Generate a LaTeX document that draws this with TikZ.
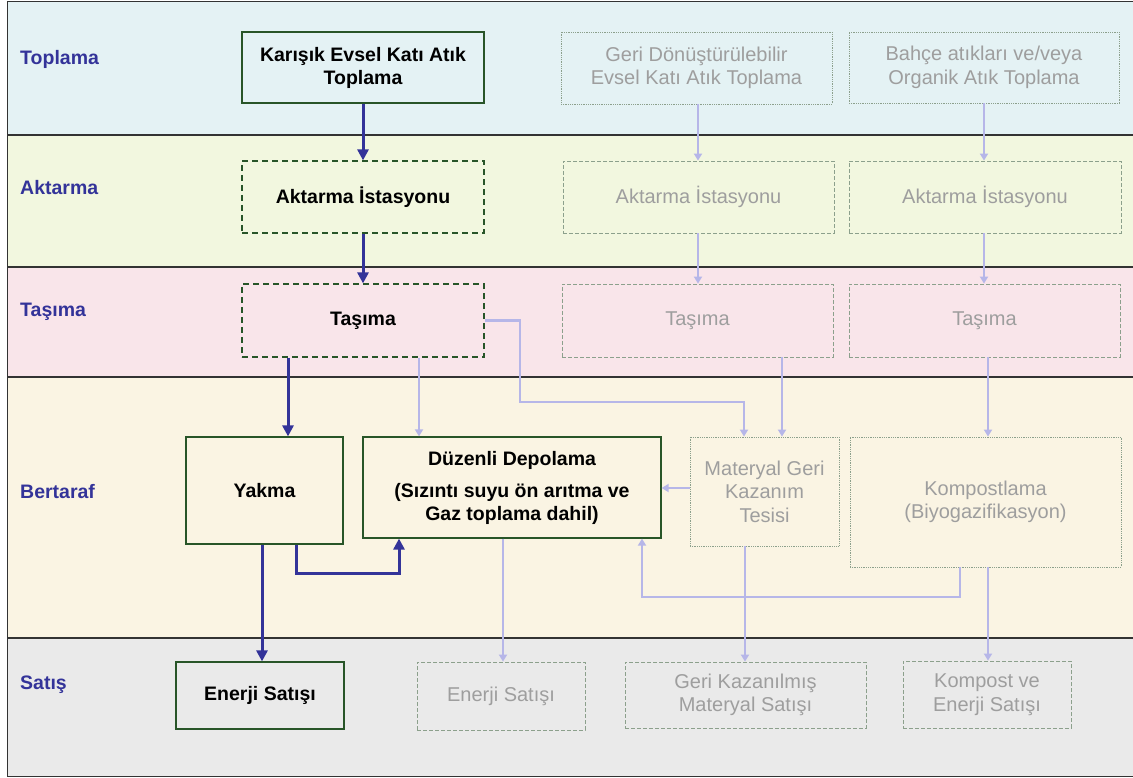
\documentclass[tikz,border=0pt]{standalone}
\usepackage{fontspec}
\setmainfont{Liberation Sans}
\usetikzlibrary{arrows.meta}
\definecolor{lblue}{RGB}{51,51,153}
\definecolor{dgreen}{RGB}{40,85,40}
\definecolor{lav}{RGB}{182,182,232}
\definecolor{ggreen}{RGB}{140,160,140}
\definecolor{gtext}{RGB}{158,158,158}
\definecolor{bandtop}{RGB}{228,242,244}
\definecolor{bandakt}{RGB}{242,247,223}
\definecolor{bandtas}{RGB}{249,229,234}
\definecolor{bandber}{RGB}{250,244,227}
\definecolor{bandsat}{RGB}{234,234,234}
\tikzset{%
    box/.style={draw=dgreen, line width=1.2pt, align=center, inner sep=0pt, font=\fontsize{19.5}{23}\selectfont\bfseries},
    boxd/.style={box, dash pattern=on 6pt off 4pt},
    gbox/.style={draw=ggreen, line width=0.8pt, dash pattern=on 4pt off 2pt, align=center, inner sep=0pt, text=gtext, font=\fontsize{20}{23.5}\selectfont},
    gboxt/.style={gbox, densely dotted},
    pri/.style={line width=3pt, draw=lblue},
    pria/.style={pri, -{Triangle[width=11pt,length=11pt]}},
    seca/.style={line width=2.5pt, draw=lav, -{Triangle[width=8pt,length=7pt]}},
    lab/.style={anchor=west, inner sep=0pt, text=lblue, font=\fontsize{19.5}{23}\selectfont\bfseries},
    band/.style={line width=1.5pt, draw=black!80},
}

\begin{document}
\begin{tikzpicture}[x=1pt, y=-1pt]
    \useasboundingbox (0,0) rectangle (1133,778);
    % bands
    \fill[bandtop] (7,2) rectangle (1133,135);
    \fill[bandakt] (7,135) rectangle (1133,267);
    \fill[bandtas] (7,267) rectangle (1133,377);
    \fill[bandber] (7,377) rectangle (1133,638);
    \fill[bandsat] (7,638) rectangle (1133,776);
    \draw[band] (7,135) -- (1133,135);
    \draw[band] (7,267) -- (1133,267);
    \draw[band] (7,377) -- (1133,377);
    \draw[band] (7,638) -- (1133,638);
    \draw[line width=1pt, black!80] (1133,2) -- (7,2) -- (7,776) -- (1133,776);

    % row labels
    \draw node[lab] (ltop) at (20,59) {Toplama};
    \draw node[lab] (lakt) at (20,188) {Aktarma};
    \draw node[lab] (ltas) at (20,312) {Taşıma};
    \draw node[lab] (lber) at (20,492) {Bertaraf};
    \draw node[lab] (lsat) at (20,685) {Satış};

    % main chain
    \draw node[box, minimum width=242, minimum height=71] (kat) at (363,67.5) {Karışık Evsel Katı Atık\\Toplama};
    \draw node[boxd, minimum width=242, minimum height=72] (akt) at (363,197) {Aktarma İstasyonu};
    \draw node[boxd, minimum width=242, minimum height=73] (tas) at (363,320.5) {Taşıma};
    \draw node[box, minimum width=157, minimum height=107] (yak) at (264.5,490.5) {Yakma};
    \draw node[box, minimum width=298, minimum height=101] (duz) at (512,487.5) {Düzenli Depolama\\[9pt](Sızıntı suyu ön arıtma ve\\Gaz toplama dahil)};
    \draw node[box, minimum width=168, minimum height=67] (ene) at (260,695.5) {Enerji Satışı};

    % faded chains
    \draw node[gboxt, minimum width=271, minimum height=72] (geri) at (696.5,68) {Geri Dönüştürülebilir\\Evsel Katı Atık Toplama};
    \draw node[gboxt, minimum width=270, minimum height=71] (bah) at (984,67.5) {Bahçe atıkları ve/veya\\Organik Atık Toplama};
    \draw node[gbox, minimum width=271, minimum height=72] (aktg) at (698.5,197) {Aktarma İstasyonu};
    \draw node[gbox, minimum width=272, minimum height=72] (aktk) at (985,197) {Aktarma İstasyonu};
    \draw node[gbox, minimum width=271, minimum height=73] (tasg) at (697.5,320.5) {Taşıma};
    \draw node[gbox, minimum width=271, minimum height=73] (task) at (984.5,320.5) {Taşıma};
    \draw node[gboxt, minimum width=149, minimum height=109] (mat) at (764.5,491.5) {Materyal Geri\\Kazanım\\Tesisi};
    \draw node[gboxt, minimum width=271, minimum height=130] (kom) at (985.5,502) {Kompostlama\\(Biyogazifikasyon)};
    \draw node[gbox, minimum width=168, minimum height=68] (eneg) at (501,696) {Enerji Satışı};
    \draw node[gbox, minimum width=241, minimum height=66] (gkm) at (745.5,695) {Geri Kazanılmış\\Materyal Satışı};
    \draw node[gbox, minimum width=168, minimum height=67] (kev) at (987,694.5) {Kompost ve\\Enerji Satışı};

    % faded arrows
    \draw [seca] (geri.south -| 698,0) -- (aktg.north -| 698,0);
    \draw [seca] (bah.south -| 984,0) -- (aktk.north -| 984,0);
    \draw [seca] (aktg.south -| 698,0) -- (tasg.north -| 698,0);
    \draw [seca] (aktk.south -| 984,0) -- (task.north -| 984,0);
    \draw [seca] (tas.south -| 419,0) -- (duz.north -| 419,0);
    \draw [seca] (tas.east) -| (520,402) -| (mat.north -| 744,0);
    \draw [seca] (tasg.south -| 782,0) -- (mat.north -| 782,0);
    \draw [seca] (task.south -| 988,0) -- (kom.north -| 988,0);
    \draw [seca] (mat.west |- 0,488) -- (duz.east |- 0,488);
    \draw [seca] (duz.south -| 503,0) -- (eneg.north -| 503,0);
    \draw [seca] (mat.south -| 745,0) -- (gkm.north -| 745,0);
    \draw [seca] (kom.south -| 988,0) -- (kev.north -| 988,0);
    \draw [seca] (kom.south -| 960,0) |- (642,597) -- (duz.south -| 642,0);

    % main arrows
    \draw [pria] (kat) -- (akt);
    \draw [pria] (akt) -- (tas);
    \draw [pria] (tas.south -| 288,0) -- (yak.north -| 288,0);
    \draw [pria] (yak.south -| 262,0) -- (ene.north -| 262,0);
    \draw [pria] (yak.south -| 296,0) |- (399,573) -- (duz.south -| 399,0);
\end{tikzpicture}
\end{document}
